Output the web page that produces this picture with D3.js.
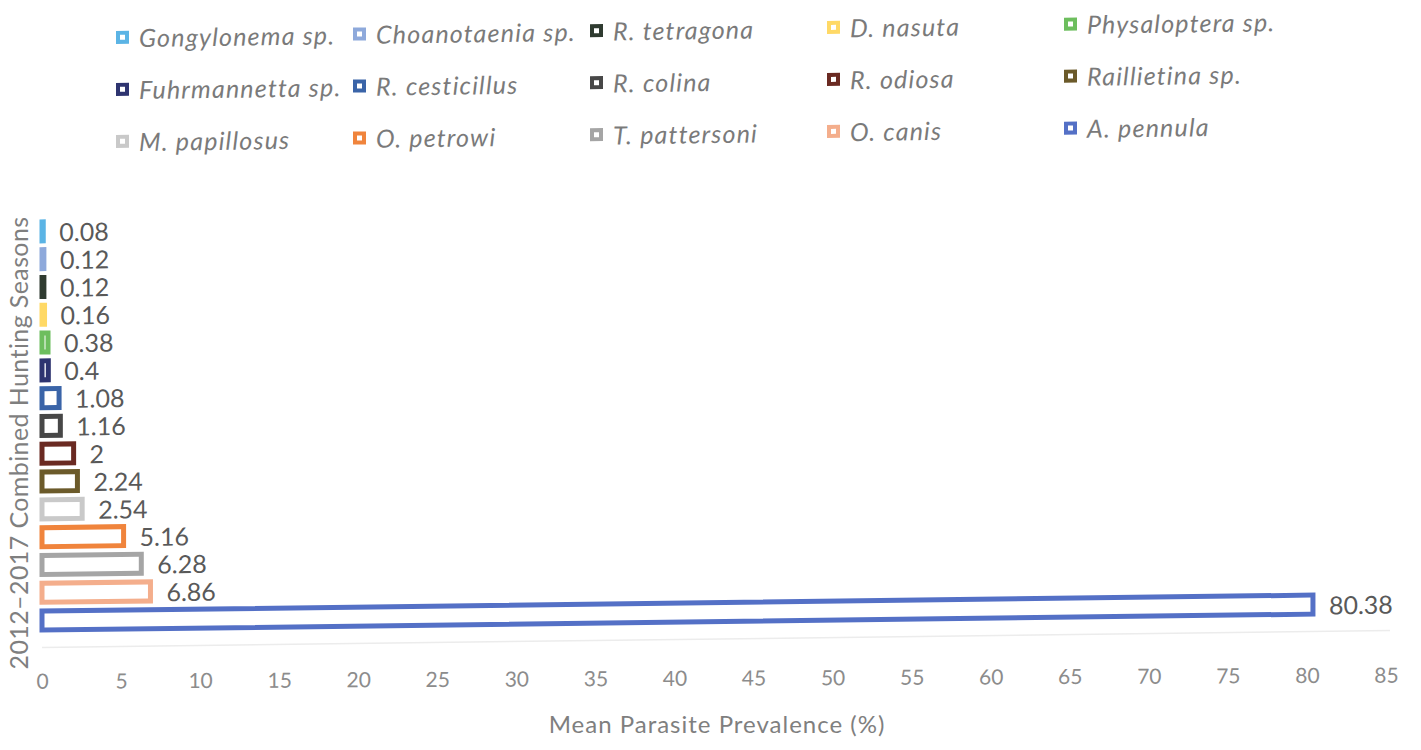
<!DOCTYPE html>
<html>
<head>
<meta charset="utf-8">
<script src="https://cdn.jsdelivr.net/npm/d3@7"></script>
<style>
  html, body { margin: 0; padding: 0; background: #ffffff; }
  svg { display: block; font-family: Lato, "Open Sans", sans-serif; }
</style>
</head>
<body>
<svg id="chart" width="1421" height="750"></svg>
<script>
// Parasite species (legend order, top bar first)
const species = [
  "Gongylonema sp.", "Choanotaenia sp.", "R. tetragona", "D. nasuta", "Physaloptera sp.",
  "Fuhrmannetta sp.", "R. cesticillus", "R. colina", "R. odiosa", "Raillietina sp.",
  "M. papillosus", "O. petrowi", "T. pattersoni", "O. canis", "A. pennula"
];
// Mean prevalence (%) for the 2012–2017 combined hunting seasons
const prevalence = [0.08, 0.12, 0.12, 0.16, 0.38, 0.4, 1.08, 1.16, 2, 2.24, 2.54, 5.16, 6.28, 6.86, 80.38];
// Outline colour of each species
const speciesColors = [
  "#5bb4e5", "#8ea9db", "#2f3b30", "#ffd966", "#6dbe5e",
  "#2e3470", "#3a64a8", "#474747", "#6a2a22", "#6b5a2a",
  "#c9c9c9", "#f0843c", "#a5a5a5", "#f4ae8c", "#5470c6"
];
const xTicks = [0, 5, 10, 15, 20, 25, 30, 35, 40, 45, 50, 55, 60, 65, 70, 75, 80, 85];
const categoryLabel = "2012\u20132017 Combined Hunting Seasons";
const xAxisTitle = "Mean Parasite Prevalence (%)";

const rows = species.map((s, i) => ({ name: s, value: prevalence[i], color: speciesColors[i] }));

const svg = d3.select("#chart");

const x = d3.scaleLinear().domain([0, 85]).range([42, 1386]);
const y = d3.scaleBand()
  .domain(species)
  .range([218, 635])
  .paddingInner(0.316)
  .paddingOuter(0.158);

// the printed figure sits at a slight slant on the page
const plot = svg.append("g").attr("transform", "skewY(-0.72)");

// faint baseline under the bars
plot.append("line")
  .attr("x1", x(0)).attr("x2", x(85) + 4)
  .attr("y1", 648).attr("y2", 648)
  .attr("stroke", "#ececec").attr("stroke-width", 1.5);

// hollow bars
const bars = plot.append("g").attr("class", "bars");
bars.selectAll("rect")
  .data(rows)
  .join("rect")
  .attr("x", x(0))
  .attr("y", d => y(d.name))
  .attr("width", d => x(d.value) - x(0))
  .attr("height", y.bandwidth())
  .attr("fill", "#ffffff")
  .attr("stroke", d => d.color)
  .attr("stroke-width", 5);

// value labels
bars.selectAll("text")
  .data(rows)
  .join("text")
  .attr("x", d => x(d.value) + 16)
  .attr("y", d => y(d.name) + y.bandwidth() / 2)
  .attr("dominant-baseline", "central")
  .attr("font-size", 25)
  .attr("fill", "#595959")
  .text(d => d.value);

// x axis tick labels
const xAxis = d3.axisBottom(x).tickValues(xTicks).tickSize(0).tickPadding(0);
const gx = svg.append("g").attr("transform", "skewY(-0.26) translate(0,674)").call(xAxis);
gx.select(".domain").remove();
gx.selectAll("text")
  .attr("font-family", "Lato, sans-serif")
  .attr("font-size", 21)
  .attr("fill", "#8c8c8c");

// axis titles
svg.append("text")
  .attr("x", 717).attr("y", 733)
  .attr("text-anchor", "middle")
  .attr("font-size", 24)
  .attr("letter-spacing", 1)
  .attr("fill", "#7f7f7f")
  .text(xAxisTitle);

svg.append("text")
  .attr("transform", "translate(28,443) rotate(-90)")
  .attr("text-anchor", "middle")
  .attr("font-size", 25)
  .attr("letter-spacing", 0.4)
  .attr("fill", "#7f7f7f")
  .text(categoryLabel);

// legend: 5 columns x 3 rows
const legend = svg.append("g").attr("class", "legend").attr("transform", "skewY(-0.8)");
const item = legend.selectAll("g")
  .data(rows)
  .join("g")
  .attr("transform", (d, i) => `translate(${116 + (i % 5) * 237},${39 + Math.floor(i / 5) * 52})`);
item.append("rect")
  .attr("x", 2).attr("y", -4.5)
  .attr("width", 9).attr("height", 9)
  .attr("fill", "#ffffff")
  .attr("stroke", d => d.color)
  .attr("stroke-width", 4);
item.append("text")
  .attr("x", 23)
  .attr("dominant-baseline", "central")
  .attr("font-size", 25)
  .attr("letter-spacing", 1.2)
  .attr("font-style", "italic")
  .attr("fill", "#7a7a7a")
  .text(d => d.name);
</script>
</body>
</html>
